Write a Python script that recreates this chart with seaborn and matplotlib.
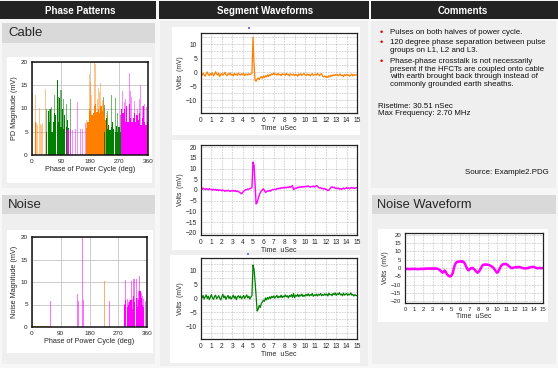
import numpy as np
import pandas as pd
import matplotlib
matplotlib.use("Agg")
import matplotlib.pyplot as plt
from matplotlib.patches import Rectangle
from matplotlib.ticker import MultipleLocator
import seaborn as sns

# ------------------------------------------------------------
# data
# ------------------------------------------------------------
# Cable phase pattern (phase deg, magnitude mV)
CABLE_OR_LIGHT_PH = [10, 14, 18, 22, 26, 30, 34, 42, 170, 178, 182, 186, 194, 198, 202, 206, 210, 214, 218, 226, 230, 234]
CABLE_OR_LIGHT_MV = [13, 6.8, 6.5, 10.2, 6.6, 6.4, 6.8, 14.2, 7.5, 17.5, 15.8, 13, 20, 19.5, 12, 14.5, 13.6, 15.5, 11.8, 10.2, 9, 8.5]
CABLE_OR_SOLID_PH = [10, 170, 174, 178, 182, 186, 190, 194, 198, 202, 206, 210, 214, 218, 222, 226, 230, 234, 238, 358]
CABLE_OR_SOLID_MV = [7.2, 5.8, 7.2, 10, 9.5, 8.5, 9, 10.5, 11, 9.2, 10, 9, 10.5, 9.5, 11.5, 8.5, 7.5, 6.5, 5.5, 7]
CABLE_GR_LIGHT_PH = [46, 54, 62, 70, 82, 90, 98, 106, 118, 222, 226, 234, 246, 258, 266, 274]
CABLE_GR_LIGHT_MV = [10, 10, 10.3, 13, 12.5, 14, 12, 11, 12, 12.5, 10.8, 9.5, 13, 12.3, 9, 8.7]
CABLE_GR_SOLID_PH = [46, 50, 54, 58, 62, 66, 70, 74, 78, 82, 86, 90, 94, 98, 102, 106, 110, 114,
                     226, 230, 234, 238, 242, 246, 250, 254, 258, 262, 266, 270, 274]
CABLE_GR_SOLID_MV = [5, 9.5, 7, 10, 5, 7, 9, 8.5, 16.2, 7, 12.3, 6, 10, 5.5, 8.5, 6, 7.6, 5.8,
                     5, 8, 5.5, 6.5, 5.3, 6, 7, 5.5, 5, 6.2, 5, 6, 5]
CABLE_MG_LIGHT_PH = [118, 126, 134, 142, 150, 158, 166, 282, 286, 290, 294, 302, 306, 310, 318, 326, 334, 338, 342, 350, 354]
CABLE_MG_LIGHT_MV = [5.6, 5.3, 5.6, 11.5, 5.5, 5.5, 6.8, 13.8, 11.5, 12, 10.5, 17.6, 13.7, 12.5, 11.6, 10, 12, 15.1, 10.5, 11, 10.4]
CABLE_MG_SOLID_PH = [110, 114, 278, 282, 286, 290, 294, 298, 302, 306, 310, 314, 318, 322, 326, 330, 334, 338, 342, 346, 350, 354]
CABLE_MG_SOLID_MV = [5.4, 5.6, 10, 9, 10, 7, 10.5, 7, 11, 8, 7, 8, 9, 7, 8.5, 7.5, 9, 6.5, 8, 10.5, 7, 6.5]
CABLE_CY_PH = [186]
CABLE_CY_MV = [14.5]

# Noise phase pattern
NOISE_OR_PH = [2, 6, 10, 14, 18, 22, 26, 30, 34, 38, 42, 46, 50, 54, 58, 226]
NOISE_OR_MV = [0.25, 0.25, 0.25, 0.25, 0.25, 0.25, 0.25, 0.25, 0.25, 0.25, 0.25, 0.25, 0.25, 0.25, 0.25, 10.2]
NOISE_MG_LIGHT_PH = [58, 142, 146, 158, 162, 242, 290, 294, 298, 302, 306, 310, 314, 318, 322, 326, 330, 334, 338, 342, 346, 350, 354]
NOISE_MG_LIGHT_MV = [5.8, 7.4, 5.8, 19.8, 6, 5.8, 5.2, 10.5, 6.2, 5.6, 6, 10.3, 6.2, 10.6, 10.6, 10.6, 6.5, 8, 11.3, 7.5, 7, 6.2, 5.8]
NOISE_MG_SOLID_PH = [290, 294, 298, 302, 306, 310, 314, 318, 322, 326, 330, 334, 338, 342, 346, 350]
NOISE_MG_SOLID_MV = [5, 6, 4.5, 5, 5.5, 6, 4, 7, 5.5, 6.5, 4.5, 6, 8, 6.5, 5, 4.5]

# Segment waveforms, 0.1 uSec samples from 0 to 15 uSec (mV)
WAVE_ORANGE = [
    -0.6, -1.1, -0.3, -0.9, -1.4, -0.5, 0.1, -0.8, -1.2, -0.4,
    -0.9, -0.2, -1.3, -0.7, 0.2, -0.6, -1.0, -0.3, -1.5, -0.8,
    -0.4, -1.1, -0.6, 0.0, -0.9, -1.2, -0.5, -0.8, -0.2, -1.0,
    -0.7, -1.3, -0.4, -0.9, -0.6, -1.1, -0.3, -0.8, -1.0, -0.5,
    -0.9, -0.4, -1.2, -0.7, -0.6, -1.0, -0.5, -0.8, -0.6, -0.4,
    12.5, 3.0, -2.8, -3.2, -2.4, -2.0, -2.6, -1.8, -1.5, -2.1,
    -1.4, -1.9, -1.2, -1.6, -0.9, -1.5, -0.8, -1.1, -0.5, -0.9,
    -0.3, -0.8, -0.6, -1.0, -0.4, -0.9, -0.7, -1.2, -0.5, -0.8,
    -0.6, -1.1, -0.4, -0.9, -0.7, -1.3, -0.5, -0.8, -1.0, -0.6,
    -1.2, -0.7, -0.9, -1.4, -0.6, -1.0, -0.5, -1.1, -0.8, -0.4,
    -0.9, -1.2, -0.6, -1.0, -0.7, -1.3, -0.8, -0.5, -1.1, -0.9,
    -0.6, -1.0, -0.4, -0.8, -1.2, -0.7, -0.5, -1.4, -1.6, -1.3,
    -1.8, -1.5, -1.9, -1.2, -1.6, -1.0, -1.4, -0.9, -1.2, -0.8,
    -1.1, -0.7, -1.3, -0.9, -0.6, -1.2, -1.0, -1.5, -0.8, -1.1,
    -0.7, -1.2, -0.9, -1.4, -1.0, -0.6, -1.3, -0.8, -1.1, -0.9,
    -1.0]
WAVE_MAGENTA = [
    0.8, 0.3, 0.9, 0.5, 0.2, 0.7, 0.4, 0.1, 0.6, 0.2,
    0.3, -0.1, 0.4, 0.0, 0.3, -0.2, 0.2, -0.3, 0.1, -0.1,
    -0.4, 0.0, -0.3, -0.6, -0.2, -0.5, -0.1, -0.4, -0.7, -0.3,
    -0.5, -0.2, -0.6, -0.3, -0.7, -0.4, -0.8, -1.0, -1.4, -1.8,
    -1.2, -0.6, -0.2, 0.2, 0.1, 0.5, 0.3, 0.7, 0.8, 1.2,
    13.0, 11.5, 2.0, -6.5, -5.8, -4.0, -2.5, -1.2, -0.5, 0.0,
    0.6, -0.3, -1.1, -0.8, -0.4, -0.6, -0.2, -0.5, 0.0, 0.3,
    0.1, 0.4, 0.2, 0.7, 0.5, 0.9, 0.6, 1.1, 0.8, 1.2,
    0.9, 1.3, 1.0, 1.4, 1.1, 1.6, 1.2, 1.8, 2.0, 0.2,
    0.5, 1.0, 0.8, 1.3, 1.1, 1.5, 1.2, 1.6, 1.3, 1.7,
    1.4, 1.8, 1.5, 1.9, 1.6, 1.3, 1.7, 1.5, 1.9, 1.4,
    1.6, 2.1, 1.8, 1.2, 0.9, 1.1, 0.6, 0.8, 0.4, 0.7,
    0.3, 0.1, -0.3, -0.1, 0.6, 1.2, 1.5, 1.1, 1.3, 0.8,
    1.0, 0.6, 0.9, 0.4, 0.7, 0.3, 0.6, 0.9, 0.5, 0.8,
    1.1, 0.7, 1.0, 0.6, 0.9, 1.2, 0.8, 1.0, 0.7, 1.1,
    1.0]
WAVE_GREEN = [
    0.9, 0.2, 1.1, -0.2, 0.6, 1.3, 0.0, 0.8, -0.4, 0.5,
    1.4, 0.3, -0.3, 0.7, 1.2, -0.1, 0.4, 1.0, 0.1, -0.5,
    0.6, 1.5, 0.2, 0.9, -0.3, 0.5, 1.1, 0.0, 0.7, -0.2,
    0.4, 1.2, 0.1, 0.8, -0.4, 0.6, 1.0, 0.2, 0.9, -0.1,
    0.5, 1.1, 0.0, 0.7, 1.3, 0.2, 0.8, -0.2, 0.6, 1.0,
    12.0, 10.5, 6.0, 1.0, -4.5, -3.8, -2.5, -3.2, -1.8, -1.2,
    -0.6, -1.0, 0.2, -0.5, 0.4, -0.2, 0.6, 0.0, 0.8, 0.3,
    0.9, 0.1, 0.7, 1.1, 0.2, 0.8, 0.4, 1.2, 0.3, 0.9,
    0.5, 1.3, 0.6, 1.0, 0.2, 1.1, 0.7, 1.4, 0.4, 1.8,
    0.3, 1.2, 0.8, 1.5, 0.6, 1.3, 0.9, 1.6, 0.7, 1.2,
    0.8, 1.5, 1.0, 1.7, 0.9, 1.4, 1.1, 1.8, 0.8, 1.3,
    1.0, 1.6, 0.9, 1.5, 1.2, 1.8, 1.0, 1.4, 1.1, 1.7,
    1.2, 1.6, 0.9, 1.9, 1.3, 1.5, 1.0, 1.8, 1.4, 2.0,
    1.1, 1.7, 1.4, 2.1, 1.3, 1.6, 1.0, 1.9, 1.2, 1.5,
    1.8, 1.1, 1.6, 1.3, 2.0, 1.2, 1.5, 0.9, 1.4, 1.1,
    1.0]
WAVE_NOISE = [
    -0.5, -0.7, -0.4, -0.6, -0.5, -0.8, -0.6, -0.4, -0.7, -0.5,
    -0.6, -0.4, -0.7, -0.5, -0.8, -0.6, -0.5, -0.7, -0.4, -0.6,
    -0.5, -0.3, -0.6, -0.4, -0.2, -0.5, -0.3, -0.4, -0.2, -0.5,
    -0.3, -0.4, -0.2, -0.5, -0.3, -0.4, -0.6, -0.9, -1.3, -1.9,
    -2.4, -2.8, -2.2, -1.5, -2.0, -3.2, -4.0, -4.5, -4.9, -5.1,
    -4.8, -4.0, -2.8, -0.5, 1.5, 2.8, 3.4, 3.8, 3.6, 3.9,
    4.0, 3.7, 4.1, 3.8, 3.5, 2.6, 1.4, 0.2, -0.8, -1.4,
    -1.0, -0.4, -0.1, 0.1, -0.2, -0.6, -1.2, -1.9, -2.5, -2.8,
    -2.3, -1.6, -0.6, 0.5, 1.4, 1.9, 2.1, 2.0, 2.2, 1.9,
    2.0, 1.8, 1.6, 1.3, 1.0, 0.6, 0.2, -0.5, -1.3, -2.2,
    -2.8, -2.5, -1.4, -0.2, 0.8, 1.6, 2.1, 2.4, 2.2, 2.5,
    2.3, 2.0, 1.6, 1.1, 0.6, 0.2, -0.1, 0.0, 0.2, 0.4,
    0.5, 0.3, 0.6, 0.4, 0.7, 0.5, 0.3, 0.1, 0.0, -0.2,
    -0.1, -0.3, -0.2, 0.0, -0.1, 0.2, 0.4, 0.6, 0.5, 0.7,
    0.6, 0.4, 0.2, 0.0, -0.2, -0.1, 0.1, 0.0, -0.2, 0.0,
    0.0]

BULLETS = [
    ["Pulses on both halves of power cycle."],
    ["120 degree phase separation between pulse", "groups on L1, L2 and L3."],
    ["Phase-phase crosstalk is not necessarily", "present if the HFCTs are coupled onto cable",
     "with earth brought back through instead of", "commonly grounded earth sheaths."],
]
RISETIME = "Risetime: 30.51 nSec"
MAX_FREQ = "Max Frequency: 2.70 MHz"
SOURCE = "Source: Example2.PDG"

# ------------------------------------------------------------
# figure / layout helpers (pixel coords, origin top-left)
# ------------------------------------------------------------
W, H = 558, 368
sns.set_theme(style="white")
plt.rcParams['font.family'] = ['Liberation Sans', 'DejaVu Sans']

fig = plt.figure(figsize=(W / 100, H / 100), dpi=100)
fig.patch.set_facecolor('#f7f7f7')

DARK = '#232323'
BAND = '#d9d9d9'
PANEL = '#efefef'
ORANGE = '#ff8000'
GREEN = '#008000'
MAGENTA = '#ff00ff'


def box(x0, y0, x1, y1, color):
    fig.patches.append(Rectangle((x0 / W, 1 - y1 / H), (x1 - x0) / W, (y1 - y0) / H,
                                 transform=fig.transFigure, facecolor=color,
                                 edgecolor='none', zorder=-5))


def axes_at(x0, y0, x1, y1):
    return fig.add_axes([x0 / W, 1 - y1 / H, (x1 - x0) / W, (y1 - y0) / H])


def ftext(x, y, s, **kw):
    fig.text(x / W, 1 - y / H, s, **kw)


# headers
box(0, 1, 156, 19, DARK)
box(159, 1, 369, 19, DARK)
box(371, 1, 558, 19, DARK)
for cx, title in [(80, "Phase Patterns"), (265, "Segment Waveforms"), (463, "Comments")]:
    ftext(cx, 10.5, title, color='white', fontsize=7, fontweight='bold', ha='center', va='center')

# left column panels
box(2, 23, 155, 43, BAND)
box(2, 43, 155, 188, PANEL)
box(2, 195, 155, 214, BAND)
box(2, 214, 155, 364, PANEL)
box(7, 57, 152, 183, 'white')
box(7, 230, 153, 353, 'white')
ftext(8, 33.5, "Cable", fontsize=9.5, va='center')
ftext(8, 205, "Noise", fontsize=9.5, va='center')

# middle column panels
box(160, 21, 368, 366, PANEL)
box(172, 27, 360, 135, 'white')
box(172, 140, 360, 250, 'white')
box(170, 255, 360, 363, 'white')
box(248, 27, 250, 29, '#7070ff')
box(247, 253, 249, 255, '#7070ff')

# right column panels
box(371, 21, 556, 188, PANEL)
box(372, 195, 556, 214, BAND)
box(372, 214, 556, 364, PANEL)
box(378, 229, 548, 322, 'white')
ftext(377, 205, "Noise Waveform", fontsize=9.3, va='center')

# comments
line_y = [32.3, 42.7, 50.7, 61.7, 69.3, 77.0, 84.3]
k = 0
for lines in BULLETS:
    ftext(381, line_y[k], "\u2022", color='#e00000', fontsize=6.5, ha='center', va='center')
    for ln in lines:
        ftext(390, line_y[k], ln, fontsize=5.65, va='center', color='#111111')
        k += 1
ftext(378, 106, RISETIME, fontsize=5.65, va='center', color='#111111')
ftext(378, 113.5, MAX_FREQ, fontsize=5.65, va='center', color='#111111')
ftext(549, 173, SOURCE, fontsize=5.65, va='center', ha='right', color='#111111')

# ------------------------------------------------------------
# phase pattern charts
# ------------------------------------------------------------


def phase_chart(ax, layers, ylabel):
    for ph, mv, color, alpha, shrink in layers:
        df = pd.DataFrame({"phase": ph, "mv": mv})
        sns.histplot(data=df, x="phase", weights="mv", binwidth=4, binrange=(0, 360),
                     color=color, alpha=alpha, shrink=shrink, linewidth=0, ax=ax)
    ax.set_xlim(0, 360)
    ax.set_ylim(0, 20)
    ax.set_xticks([0, 90, 180, 270, 360])
    ax.set_yticks([0, 5, 10, 15, 20])
    ax.xaxis.set_minor_locator(MultipleLocator(10))
    ax.yaxis.set_minor_locator(MultipleLocator(1))
    ax.grid(True, which='major', color='#c4c4c4', lw=0.6)
    ax.set_axisbelow(True)
    ax.tick_params(which='major', direction='out', length=2, width=0.6, pad=1, labelsize=4.6)
    ax.tick_params(which='minor', direction='in', length=1.2, width=0.4)
    for sp in ax.spines.values():
        sp.set_color('#111111')
        sp.set_linewidth(1.1)
    ax.set_xlabel("Phase of Power Cycle (deg)", fontsize=5.2, labelpad=1)
    ax.set_ylabel(ylabel, fontsize=5.2, labelpad=2)
    ax.set_facecolor('white')


ax_cable = axes_at(32, 62, 148, 155)
phase_chart(ax_cable, [
    (CABLE_OR_LIGHT_PH, CABLE_OR_LIGHT_MV, ORANGE, 0.45, 0.8),
    (CABLE_GR_LIGHT_PH, CABLE_GR_LIGHT_MV, GREEN, 0.55, 0.8),
    (CABLE_MG_LIGHT_PH, CABLE_MG_LIGHT_MV, MAGENTA, 0.45, 0.8),
    (CABLE_OR_SOLID_PH, CABLE_OR_SOLID_MV, ORANGE, 1.0, 1.0),
    (CABLE_GR_SOLID_PH, CABLE_GR_SOLID_MV, GREEN, 1.0, 0.9),
    (CABLE_MG_SOLID_PH, CABLE_MG_SOLID_MV, MAGENTA, 1.0, 1.0),
    (CABLE_CY_PH, CABLE_CY_MV, '#40e0e0', 1.0, 0.35),
], "PD Magnitude (mV)")

ax_noise = axes_at(32, 237, 147, 327)
phase_chart(ax_noise, [
    (NOISE_OR_PH, NOISE_OR_MV, ORANGE, 0.6, 1.0),
    (NOISE_MG_LIGHT_PH, NOISE_MG_LIGHT_MV, MAGENTA, 0.55, 0.75),
    (NOISE_MG_SOLID_PH, NOISE_MG_SOLID_MV, MAGENTA, 1.0, 0.9),
], "Noise Magnitude (mV)")

# ------------------------------------------------------------
# waveform charts
# ------------------------------------------------------------


def wave_chart(ax, values, color, ylim, yticks, lw, minor_y=None):
    t = np.linspace(0, 15, len(values))
    sns.lineplot(x=t, y=values, color=color, lw=lw, estimator=None, sort=False, ax=ax)
    ax.set_xlim(0, 15)
    ax.set_ylim(*ylim)
    ax.set_xticks(range(0, 16))
    ax.set_yticks(yticks)
    if minor_y:
        ax.yaxis.set_minor_locator(MultipleLocator(minor_y))
        ax.grid(True, which='minor', axis='y', color='#9a9a9a', lw=0.45, linestyle=(0, (1, 1.5)))
    ax.grid(True, which='major', color='#9a9a9a', lw=0.45, linestyle=(0, (1, 1.5)))
    ax.set_axisbelow(True)
    ax.tick_params(which='major', direction='out', length=1.8, width=0.5, pad=1, labelsize=4.8)
    ax.tick_params(which='minor', length=0)
    for sp in ax.spines.values():
        sp.set_color('#222222')
        sp.set_linewidth(0.9)
    ax.set_xlabel("Time  uSec", fontsize=5, labelpad=0.5)
    ax.set_ylabel("Volts  (mV)", fontsize=4.8, labelpad=1.5)
    ax.set_facecolor('white')


ax_w1 = axes_at(201, 33, 357, 113)
wave_chart(ax_w1, WAVE_ORANGE, ORANGE, (-14.5, 14), [-10, -5, 0, 5, 10], 0.9, minor_y=2.5)

ax_w2 = axes_at(201, 145, 357, 235)
wave_chart(ax_w2, WAVE_MAGENTA, MAGENTA, (-21, 21), [-20, -15, -10, -5, 0, 5, 10, 15, 20], 1.0)

ax_w3 = axes_at(201, 258, 357, 339)
wave_chart(ax_w3, WAVE_GREEN, GREEN, (-14.5, 14.5), [-10, -5, 0, 5, 10], 0.9, minor_y=2.5)

ax_wn = axes_at(405, 233, 543, 303)
wave_chart(ax_wn, WAVE_NOISE, MAGENTA, (-21, 21), [-20, -15, -10, -5, 0, 5, 10, 15, 20], 1.8)
ax_wn.tick_params(labelsize=4.3)

fig.savefig("out.png", dpi=100, facecolor=fig.get_facecolor())
